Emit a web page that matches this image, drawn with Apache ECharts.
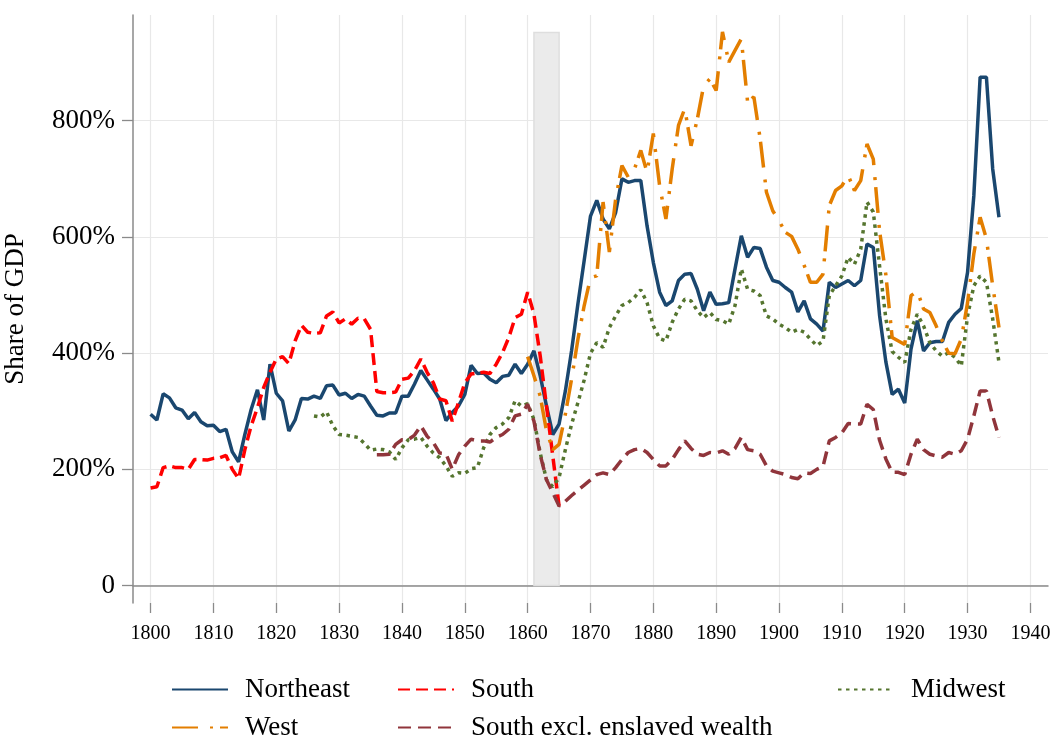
<!DOCTYPE html>
<html>
<head>
<meta charset="utf-8">
<script src="https://cdn.jsdelivr.net/npm/echarts@6/dist/echarts.min.js"></script>
<style>
  html, body { margin: 0; padding: 0; background: #fff; }
  #chart { width: 1054px; height: 738px; }
</style>
</head>
<body>
<div id="chart"></div>
<script>
// axis ticks
const xTickMin = 1800
const xTickMax = 1940
const xTickStep = 10
const yTickMin = 0
const yTickMax = 800
const yTickStep = 200

// civil war shading (years)
const warStart = 1861
const warEnd = 1865

// series values, one per year from the start year (share of GDP, %)
const northeastStart = 1800
const northeast = [
  295, 285, 330, 323, 306, 302, 287, 298, 282, 275,
  276, 265, 269, 230, 213, 260, 303, 337, 285, 381,
  331, 318, 266, 285, 322, 321, 326, 322, 344, 345,
  328, 331, 322, 329, 326, 309, 293, 292, 297, 297,
  326, 326, 347, 370, 354, 338, 321, 284, 298, 309,
  329, 379, 365, 366, 355, 349, 360, 362, 381, 365,
  381, 404, 361, 309, 260, 278, 335, 405, 485, 560,
  636, 663, 631, 614, 642, 700, 694, 697, 697, 619,
  556, 505, 482, 490, 525, 536, 537, 510, 473, 505,
  484, 485, 487, 545, 602, 565, 582, 580, 548, 525,
  522, 513, 505, 471, 490, 459, 450, 438, 522, 513,
  519, 525, 516, 525, 588, 582, 465, 385, 329, 338,
  314, 407, 456, 404, 418, 420, 420, 453, 467, 477,
  539, 671, 875, 875, 717, 634
]

const southStart = 1800
const south = [
  168, 170, 203, 206, 203, 203, 200, 217, 217, 216,
  219, 220, 224, 200, 184, 234, 275, 306, 341, 367,
  390, 394, 382, 421, 448, 436, 434, 435, 464, 471,
  452, 459, 450, 460, 459, 441, 334, 332, 332, 333,
  355, 357, 370, 390, 367, 349, 321, 318, 283, 315,
  349, 364, 366, 367, 365, 381, 401, 427, 461, 467,
  505, 467, 395, 309, 223, 137
]

const midwestStart = 1826
const midwest = [
  292, 290, 299, 275,
  260, 259, 257, 255, 245, 233, 235, 234, 230, 217,
  237, 251, 252, 255, 240, 228, 220, 206, 188, 194,
  193, 201, 203, 237, 260, 272, 278, 289, 318, 309,
  313, 286, 228, 182, 170, 186, 234, 278, 315, 354,
  400, 418, 410, 444, 464, 482, 487, 496, 509, 487,
  447, 425, 421, 453, 476, 493, 490, 473, 461, 470,
  458, 456, 450, 482, 545, 510, 507, 499, 464, 459,
  450, 444, 436, 441, 436, 424, 413, 421, 499, 516,
  533, 565, 553, 579, 660, 643, 550, 459, 403, 393,
  384, 441, 467, 447, 418, 404, 395, 401, 393, 378,
  464, 516, 533, 522, 459, 384
]

const westStart = 1860
const west = [
  394, 361, 326, 266, 234, 243, 295, 356, 424, 482,
  530, 533, 660, 574, 665, 723, 703, 717, 749, 711,
  778, 688, 631, 717, 792, 821, 757, 803, 860, 872,
  852, 953, 901, 921, 941, 832, 841, 769, 677, 645,
  628, 608, 601, 579, 551, 522, 522, 536, 654, 680,
  688, 706, 680, 697, 760, 734, 610, 535, 427, 421,
  415, 499, 507, 476, 470, 447, 421, 400, 399, 424,
  487, 571, 634, 597, 516, 444
]

const southExclStart = 1836
const southExcl = [
  225, 225, 226, 243,
  251, 251, 259, 275, 257, 246, 228, 227, 200, 225,
  240, 252, 249, 249, 247, 255, 260, 269, 292, 295,
  312, 283, 225, 182, 160, 137, 145, 155, 164, 173,
  182, 191, 194, 191, 203, 217, 229, 234, 236, 229,
  217, 206, 206, 217, 234, 249, 236, 226, 224, 229,
  228, 232, 226, 236, 255, 234, 232, 226, 206, 197,
  194, 191, 186, 184, 194, 193, 200, 205, 249, 255,
  263, 279, 278, 278, 312, 303, 250, 218, 195, 195,
  191, 226, 252, 234, 226, 223, 221, 229, 226, 232,
  252, 292, 335, 335, 292, 255
]

const toPairs = function(start, values) {
  return values.map(function(v, i) { return [start + i, v] })
}

const FONT = 'Liberation Serif'
const AXIS_GREY = '#8a8a8a'
const GRID_GREY = '#e8e8e8'

// plot box: x 133..1048 px for 1797.2..1942.8, y 603..15 px for -30..982
const xMin = 1797.2, xMax = 1942.8
const yMin = -30, yMax = 982
const boxLeft = 133, boxRight = 1048, boxTop = 15, boxBottom = 603
const pxPerYear = (boxRight - boxLeft) / (xMax - xMin)
const pxPerPct = (boxBottom - boxTop) / (yMax - yMin)

const chart = echarts.init(document.getElementById('chart'))

const lineSeries = function(name, start, values, color, type) {
  return {
    name: name,
    type: 'line',
    data: toPairs(start, values),
    symbol: 'none',
    z: 5,
    lineStyle: { color: color, width: 3.5, type: type, cap: 'butt' },
    itemStyle: { color: color }
  }
}

const legendItem = function(name, left, top) {
  return {
    data: [name],
    left: left,
    top: top,
    itemWidth: 56,
    itemHeight: 14,
    selectedMode: false,
    itemStyle: { opacity: 0 },
    textStyle: { fontFamily: FONT, fontSize: 27, color: '#000', padding: [0, 0, 0, 12] }
  }
}

const hidden = { show: false }

chart.setOption({
  animation: false,
  backgroundColor: '#fff',
  grid: [
    // data area
    { left: boxLeft, top: boxTop, right: 1054 - boxRight, bottom: 738 - boxBottom, outerBoundsMode: 'none' },
    // x ticks / vertical grid lines
    {
      left: boxLeft + (xTickMin - xMin) * pxPerYear,
      right: 1054 - (boxLeft + (xTickMax - xMin) * pxPerYear),
      top: boxTop, bottom: 738 - boxBottom, outerBoundsMode: 'none'
    },
    // y ticks / horizontal grid lines
    {
      left: boxLeft, right: 1054 - boxRight,
      top: boxBottom - (yTickMax - yMin) * pxPerPct,
      bottom: 738 - (boxBottom - (yTickMin - yMin) * pxPerPct),
      outerBoundsMode: 'none'
    }
  ],
  legend: [
    legendItem('Northeast', 166, 671),
    legendItem('South', 392, 671),
    legendItem('Midwest', 832, 671),
    legendItem('West', 166, 709),
    legendItem('South excl. enslaved wealth', 392, 709)
  ],
  xAxis: [
    {
      gridIndex: 0, type: 'value', min: xMin, max: xMax,
      axisLine: { show: true, lineStyle: { color: AXIS_GREY, width: 1.5 } },
      axisTick: hidden, axisLabel: hidden, splitLine: hidden
    },
    {
      gridIndex: 1, type: 'value', min: xTickMin, max: xTickMax, interval: xTickStep,
      axisLine: hidden,
      axisTick: { show: true, length: 10, lineStyle: { color: AXIS_GREY, width: 1.3 } },
      axisLabel: {
        fontFamily: FONT, fontSize: 20, color: '#000', margin: 21,
        formatter: function(v) { return String(v) }
      },
      splitLine: { show: true, lineStyle: { color: GRID_GREY, width: 1.2 } }
    },
    { gridIndex: 2, type: 'value', show: false }
  ],
  yAxis: [
    {
      gridIndex: 0, type: 'value', min: yMin, max: yMax,
      name: 'Share of GDP',
      nameLocation: 'middle',
      nameGap: 104,
      nameRotate: 90,
      nameTextStyle: { fontFamily: FONT, fontSize: 27, color: '#000' },
      axisLine: { show: true, lineStyle: { color: AXIS_GREY, width: 1.5 } },
      axisTick: hidden, axisLabel: hidden, splitLine: hidden
    },
    { gridIndex: 1, type: 'value', show: false },
    {
      gridIndex: 2, type: 'value', min: yTickMin, max: yTickMax, interval: yTickStep,
      axisLine: hidden,
      axisTick: { show: true, length: 11, lineStyle: { color: AXIS_GREY, width: 1.3 } },
      axisLabel: {
        fontFamily: FONT, fontSize: 27, color: '#000', margin: 18,
        formatter: function(v) { return v === 0 ? '0' : v + '%' }
      },
      splitLine: { show: true, lineStyle: { color: GRID_GREY, width: 1.2 } }
    }
  ],
  series: [
    // civil war shading
    {
      type: 'line',
      data: [],
      z: 1,
      silent: true,
      markArea: {
        silent: true,
        itemStyle: { color: '#ebebeb', borderColor: '#dedede', borderWidth: 1.5 },
        data: [[{ coord: [warStart, 0] }, { coord: [warEnd, 952] }]]
      }
    },
    lineSeries('Northeast', northeastStart, northeast, '#1a476f', 'solid'),
    lineSeries('South', southStart, south, '#ff0000', [12, 6]),
    lineSeries('Midwest', midwestStart, midwest, '#55752f', [3.5, 4.5]),
    lineSeries('West', westStart, west, '#e37e00', [26, 12, 3, 7]),
    lineSeries('South excl. enslaved wealth', southExclStart, southExcl, '#90353b', [13, 7])
  ]
})
</script>
</body>
</html>
